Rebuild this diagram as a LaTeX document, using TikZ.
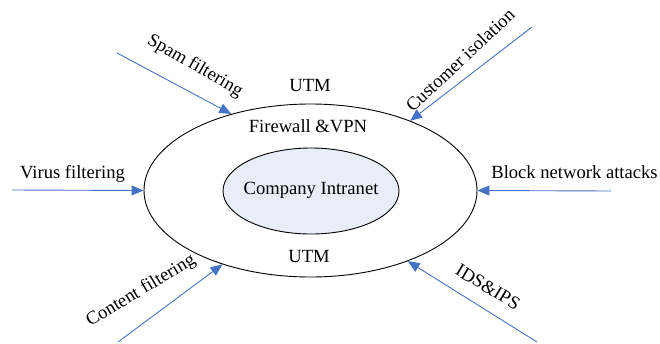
\documentclass[tikz,border=0pt]{standalone}
\usepackage{fontspec}
\setmainfont{Liberation Serif}
\usetikzlibrary{arrows.meta,shapes.geometric}
\definecolor{arrowblue}{RGB}{68,114,196}
\definecolor{innerfill}{RGB}{232,238,248}
\begin{document}
\begin{tikzpicture}[x=1pt,y=-1pt,
  every node/.style={font=\fontsize{18.6}{22}\selectfont, inner sep=0pt},
  ring/.style={ellipse, draw=black, line width=0.9pt},
  feed/.style={draw=arrowblue, line width=0.9pt, -{Triangle[length=12pt,width=10pt]}},
  lbl/.style={anchor=base}]
\useasboundingbox (0,0) rectangle (660,343);
\node[ring, minimum width=333pt, minimum height=173pt] (outer) at (310.5,190.5) {};
\node[ring, fill=innerfill, minimum width=176pt, minimum height=86pt] (inner) at (311,191) {};
\node[lbl] (cin) at (311,194) {Company Intranet};
\node[lbl] (utmtop) at (310,91) {UTM};
\node[lbl] (fw) at (308,132) {Firewall \&VPN};
\node[lbl] (utmbot) at (309,262) {UTM};
\node[lbl] (virus) at (72.5,178) {Virus filtering};
\node[lbl] (block) at (574.5,178) {Block network attacks};
\node[rotate=-30] (spam) at (195,66) {Spam filtering};
\node[rotate=43] (cust) at (460,60) {Customer isolation};
\node[rotate=31] (content) at (141,291) {Content filtering};
\node[rotate=-31] (ids) at (488,287) {IDS\&IPS};
\coordinate (vs) at (12,190);
\coordinate (bs) at (611,191);
\coordinate (ss) at (117,53);
\coordinate (cs) at (532,27);
\coordinate (ts) at (118,342);
\coordinate (is) at (537,342);
\draw[feed] (vs) -- (outer.180);
\draw[feed] (bs) -- (outer.0);
\draw[feed] (ss) -- (outer.136);
\draw[feed] (cs) -- (outer.35);
\draw[feed] (ts) -- (outer.220);
\draw[feed] (is) -- (outer.324);
\end{tikzpicture}
\end{document}
